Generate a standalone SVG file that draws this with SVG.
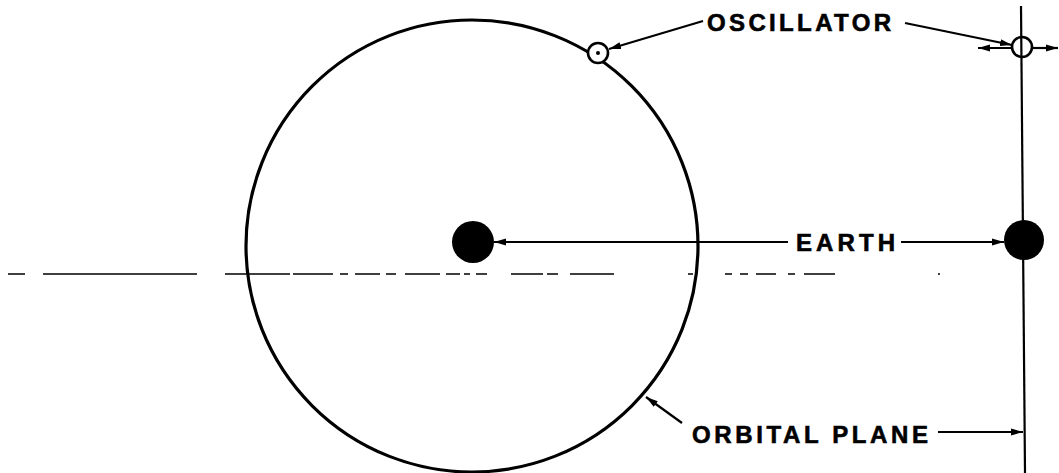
<svg xmlns="http://www.w3.org/2000/svg" width="1059" height="473" viewBox="0 0 1059 473">
<style>
.ln{stroke:#000;stroke-width:2.2;fill:none}
.orb{stroke:#000;stroke-width:3.2;fill:none}
.dash{stroke:#000;stroke-width:1.6;fill:none}
.lbl{font-family:"Liberation Sans",Arial,sans-serif;font-weight:bold;font-size:24px;fill:#000;stroke:#000;stroke-width:0.6}
.body{fill:#000}
.osc{fill:#fff;stroke:#000;stroke-width:2.6}
.osc2{fill:none;stroke:#000;stroke-width:2.6}
</style>
<defs>
<marker id="ah" markerUnits="userSpaceOnUse" markerWidth="13" markerHeight="9" refX="12" refY="4.5" orient="auto">
<path d="M0,1 L12,4.5 L0,8 z" fill="#000"/>
</marker>
</defs>
<rect width="1059" height="473" fill="#fff"/>
<g id="reference-line">
<path class="dash" d="M8,274 H25 M43,274 H197 M225,274 H290 M293,274 H333 M340,274 H348 M355,274 H380 M386,274 H396 M405,274 H440 M446,274 H460 M464,274 H470 M476,274 H487 M511,274 H543 M547,274 H558 M570,274 H614 M688,274 H693 M725,274 H732 M740,274 H748 M756,274 H776 M788,274 H795 M804,274 H835 M938,274 H940"/>
</g>
<g id="orbital-plane-axis">
<path class="ln" d="M1021,6 L1025,473"/>
</g>
<g id="orbit">
<circle class="orb" cx="472" cy="246" r="226"/>
</g>
<g id="earth-center">
<circle class="body" cx="473" cy="242" r="21"/>
</g>
<g id="earth-side">
<circle class="body" cx="1024" cy="240" r="20"/>
</g>
<g id="oscillator-orbit">
<circle class="osc" cx="598" cy="53" r="10"/>
<circle class="body" cx="598" cy="53" r="2"/>
</g>
<g id="oscillator-side">
<circle class="osc2" cx="1022" cy="47" r="10"/>
</g>
<g id="connectors">
<path class="ln" d="M703,21 L609,49" marker-end="url(#ah)"/>
<path class="ln" d="M905,23 L1012,45" marker-end="url(#ah)"/>
<path class="ln" d="M1012,48 L978,48" marker-end="url(#ah)"/>
<path class="ln" d="M1032,48 L1058,48" marker-end="url(#ah)"/>
<path class="ln" d="M788,242 L494,242" marker-end="url(#ah)"/>
<path class="ln" d="M901,242 L1004,242" marker-end="url(#ah)"/>
<path class="ln" d="M682,423 L646,397" marker-end="url(#ah)"/>
<path class="ln" d="M938,432 L1023,432" marker-end="url(#ah)"/>
</g>
<g id="labels">
<text class="lbl" x="707" y="31" textLength="184" lengthAdjust="spacing">OSCILLATOR</text>
<text class="lbl" x="796" y="251" textLength="99" lengthAdjust="spacing">EARTH</text>
<text class="lbl" x="692" y="443" textLength="236" lengthAdjust="spacing">ORBITAL PLANE</text>
</g>
</svg>
